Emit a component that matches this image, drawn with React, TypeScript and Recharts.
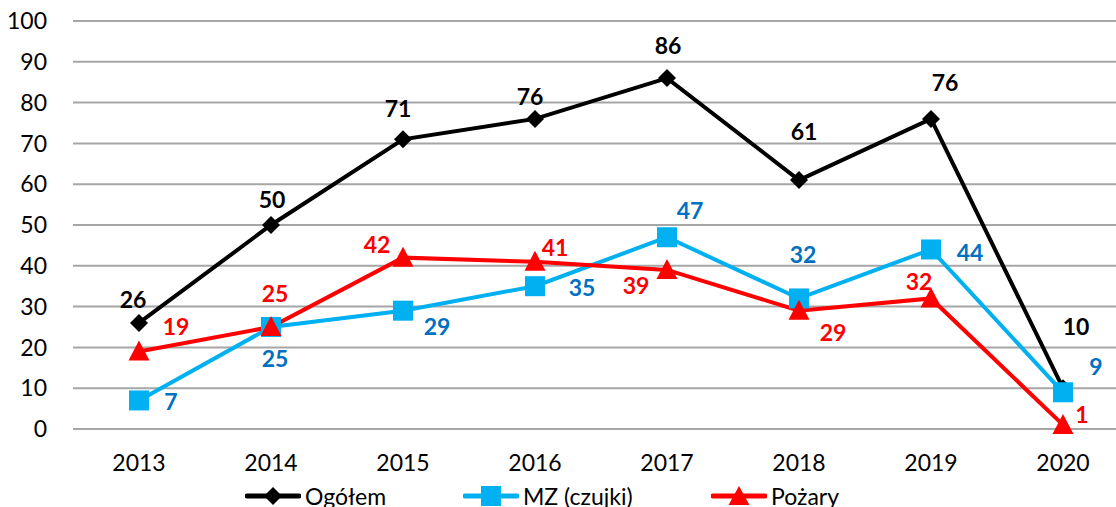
import { LineChart, Line, XAxis, YAxis, CartesianGrid, LabelList } from 'recharts'

const years = ['2013', '2014', '2015', '2016', '2017', '2018', '2019', '2020']
const ogolem = [26, 50, 71, 76, 86, 61, 76, 10]
const mzCzujki = [7, 25, 29, 35, 47, 32, 44, 9]
const pozary = [19, 25, 42, 41, 39, 29, 32, 1]
const yTicks = [0, 10, 20, 30, 40, 50, 60, 70, 80, 90, 100]

// label placement (dx, dy from the marker), as in the original
const ogolemLabelOffsets = [[-6, -23], [1, -25], [-5, -31], [-5, -22], [1, -32], [5, -48], [14, -36], [13, -61]]
const mzLabelOffsets = [[32, 1], [4, 32], [34, 16], [47, 2], [23, -27], [4, -44], [39, 3], [33, -26]]
const pozaryLabelOffsets = [[37, -25], [4, -33], [-26, -13], [20, -14], [-31, 16], [34, 22], [-12, -17], [19, -10]]

const data = years.map((year, i) => ({
    year,
    ogolem: ogolem[i],
    mz: mzCzujki[i],
    pozary: pozary[i],
}))

const FONT = 'Lato, "Open Sans", sans-serif'
const BLACK = '#000000'
const CYAN = '#00b0f0'
const BLUE_LABEL = '#0070c0'
const RED = '#ff0000'

interface DotProps {
    cx?: number
    cy?: number
    index?: number
}

function diamondDot(color: string) {
    return (props: DotProps) => {
        const { cx = 0, cy = 0, index } = props
        const r = 9
        return (
            <polygon
                key={`d-${index}`}
                points={`${cx},${cy - r} ${cx + r},${cy} ${cx},${cy + r} ${cx - r},${cy}`}
                fill={color}
            />
        )
    }
}

function squareDot(color: string) {
    return (props: DotProps) => {
        const { cx = 0, cy = 0, index } = props
        return <rect key={`s-${index}`} x={cx - 10} y={cy - 10} width={20} height={20} fill={color} />
    }
}

function triangleDot(color: string) {
    return (props: DotProps) => {
        const { cx = 0, cy = 0, index } = props
        return (
            <polygon
                key={`t-${index}`}
                points={`${cx},${cy - 11} ${cx + 10.5},${cy + 9} ${cx - 10.5},${cy + 9}`}
                fill={color}
            />
        )
    }
}

interface LabelProps {
    x?: number
    y?: number
    value?: number
    index?: number
}

function offsetLabel(color: string, offsets: number[][]) {
    return (props: LabelProps) => {
        const { x = 0, y = 0, value, index = 0 } = props
        const [dx, dy] = offsets[index] || [0, -20]
        return (
            <text
                x={x + dx}
                y={y + dy}
                dy="0.36em"
                textAnchor="middle"
                fill={color}
                fontSize={23}
                fontWeight={700}
                fontFamily={FONT}
            >
                {value}
            </text>
        )
    }
}

function LegendIcon({ color, shape }: { color: string; shape: 'diamond' | 'square' | 'triangle' }) {
    return (
        <svg width={56} height={24} style={{ display: 'block' }}>
            <line x1={2} y1={12} x2={54} y2={12} stroke={color} strokeWidth={5} strokeLinecap="round" />
            {shape === 'diamond' && <polygon points="28,3 37,12 28,21 19,12" fill={color} />}
            {shape === 'square' && <rect x={18} y={2} width={20} height={20} fill={color} />}
            {shape === 'triangle' && <polygon points="28,2 38.5,21 17.5,21" fill={color} />}
        </svg>
    )
}

const legendItems = [
    { name: 'Ogółem', color: BLACK, shape: 'diamond' as const, left: 245 },
    { name: 'MZ (czujki)', color: CYAN, shape: 'square' as const, left: 463 },
    { name: 'Pożary', color: RED, shape: 'triangle' as const, left: 711 },
]

export default function App() {
    return (
        <div
            style={{
                position: 'fixed',
                left: 0,
                top: 0,
                width: 1116,
                height: 507,
                overflow: 'hidden',
                background: '#ffffff',
                fontFamily: FONT,
            }}
        >
            <LineChart
                width={1135}
                height={507}
                data={data}
                margin={{ top: 21, right: 6, left: 0, bottom: 38 }}
            >
                <CartesianGrid vertical={false} stroke="#a6a6a6" strokeWidth={2} />
                <XAxis
                    dataKey="year"
                    axisLine={false}
                    tickLine={false}
                    tickSize={0}
                    tickMargin={26}
                    height={40}
                    interval={0}
                    padding={{ left: 66, right: 66 }}
                    tick={{ fontSize: 23, fill: '#000', fontFamily: FONT }}
                />
                <YAxis
                    domain={[0, 100]}
                    ticks={yTicks}
                    width={73}
                    axisLine={false}
                    tickLine={false}
                    tickSize={0}
                    tickMargin={26}
                    interval={0}
                    tick={{ fontSize: 23, fill: '#000', fontFamily: FONT }}
                />
                <Line
                    type="linear"
                    dataKey="ogolem"
                    name="Ogółem"
                    stroke={BLACK}
                    strokeWidth={4}
                    dot={diamondDot(BLACK)}
                    activeDot={false}
                    isAnimationActive={false}
                >
                    <LabelList dataKey="ogolem" content={offsetLabel(BLACK, ogolemLabelOffsets)} />
                </Line>
                <Line
                    type="linear"
                    dataKey="mz"
                    name="MZ (czujki)"
                    stroke={CYAN}
                    strokeWidth={4}
                    dot={squareDot(CYAN)}
                    activeDot={false}
                    isAnimationActive={false}
                >
                    <LabelList dataKey="mz" content={offsetLabel(BLUE_LABEL, mzLabelOffsets)} />
                </Line>
                <Line
                    type="linear"
                    dataKey="pozary"
                    name="Pożary"
                    stroke={RED}
                    strokeWidth={4}
                    dot={triangleDot(RED)}
                    activeDot={false}
                    isAnimationActive={false}
                >
                    <LabelList dataKey="pozary" content={offsetLabel(RED, pozaryLabelOffsets)} />
                </Line>
            </LineChart>
            {legendItems.map((item) => (
                <div
                    key={item.name}
                    style={{
                        position: 'absolute',
                        left: item.left,
                        top: 483,
                        display: 'flex',
                        alignItems: 'center',
                        gap: 4,
                        fontSize: 23,
                        lineHeight: '26px',
                        color: '#000',
                        whiteSpace: 'nowrap',
                    }}
                >
                    <LegendIcon color={item.color} shape={item.shape} />
                    <span>{item.name}</span>
                </div>
            ))}
        </div>
    )
}
